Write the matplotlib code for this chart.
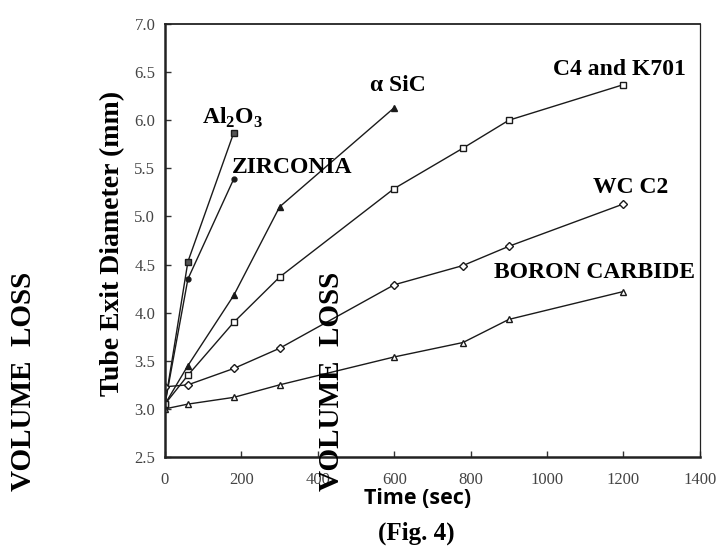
import matplotlib
matplotlib.use('Agg')
import matplotlib.pyplot as plt

plt.rcParams['mathtext.fontset'] = 'custom'
plt.rcParams['mathtext.rm'] = 'Liberation Serif:bold'
plt.rcParams['mathtext.bf'] = 'Liberation Serif:bold'

# Tube exit diameter (mm) against blasting time (sec) for each nozzle material
t_al2o3 = [0, 60, 180]
d_al2o3 = [3.05, 4.53, 5.87]

t_zirc = [0, 60, 180]
d_zirc = [3.05, 4.35, 5.39]

t_sic = [0, 60, 180, 300, 600]
d_sic = [3.05, 3.45, 4.18, 5.10, 6.13]

t_long = [0, 60, 180, 300, 600, 780, 900, 1200]
d_c4 = [3.05, 3.35, 3.90, 4.37, 5.29, 5.71, 6.00, 6.37]
d_wc = [3.23, 3.25, 3.42, 3.63, 4.29, 4.49, 4.69, 5.13]
d_boron = [3.00, 3.05, 3.12, 3.25, 3.54, 3.69, 3.93, 4.22]

labels = ['Al$_2$O$_3$', 'ZIRCONIA', 'α SiC', 'C4 and K701', 'WC C2', 'BORON CARBIDE']
label_xy = [(98, 6.02), (175, 5.51), (537, 6.36), (1015, 6.53), (1120, 5.30), (862, 4.42)]

fig = plt.figure(figsize=(7.17, 5.47), dpi=100)
ax = fig.add_axes([0.2301, 0.1645, 0.746, 0.7916])

lc = '#1a1a1a'
kw = dict(color=lc, lw=1.0, markersize=4.5, markeredgewidth=1.0)
ax.plot(t_al2o3, d_al2o3, marker='s', markerfacecolor='#555555', **kw)
ax.plot(t_zirc, d_zirc, marker='o', markersize=3.5, color=lc, lw=1.0, markerfacecolor=lc)
ax.plot(t_sic, d_sic, marker='^', markerfacecolor=lc, **kw)
ax.plot(t_long, d_c4, marker='s', markerfacecolor='white', **kw)
ax.plot(t_long, d_wc, marker='D', markersize=4.5, markerfacecolor='white', color=lc, lw=1.0, markeredgewidth=1.0)
ax.plot(t_long, d_boron, marker='^', markerfacecolor='white', **kw)

for txt, (x, y) in zip(labels, label_xy):
    ax.text(x, y, txt, family='Liberation Serif', fontweight='bold', fontsize=17,
            ha='left', va='center')

ax.set_xlim(0, 1400)
ax.set_ylim(2.5, 7.0)
ax.set_xticks(range(0, 1401, 200))
ax.set_yticks([2.5, 3.0, 3.5, 4.0, 4.5, 5.0, 5.5, 6.0, 6.5, 7.0])
ax.set_yticklabels(['%.1f' % v for v in ax.get_yticks()])
ax.tick_params(direction='in', length=4, width=1, colors='#333333', labelsize=12, pad=7)
ax.tick_params(axis='x', pad=11)
for lab in ax.get_xticklabels() + ax.get_yticklabels():
    lab.set_family('Liberation Serif')
    lab.set_color('#444444')

ax.spines['left'].set_linewidth(1.8)
ax.spines['bottom'].set_linewidth(1.8)
ax.spines['top'].set_linewidth(1.3)
ax.spines['right'].set_linewidth(0.9)
for s in ax.spines.values():
    s.set_color('#222222')

fig.text(0.157, 0.555, 'Tube Exit Diameter (mm)', rotation=90, family='Liberation Serif',
         fontweight='bold', fontsize=20, ha='center', va='center')
fig.text(0.033, 0.303, 'VOLUME  LOSS', rotation=90, family='Liberation Serif',
         fontweight='bold', fontsize=21, ha='center', va='center')
fig.text(0.463, 0.302, 'VOLUME  LOSS', rotation=90, family='Liberation Serif',
         fontweight='bold', fontsize=21, ha='center', va='center')
fig.text(0.582, 0.089, 'Time (sec)', family='Open Sans', fontweight='bold',
         fontsize=15.5, ha='center', va='center')
fig.text(0.580, 0.025, '(Fig. 4)', family='Liberation Serif', fontweight='bold',
         fontsize=18, ha='center', va='center')

fig.savefig('out.png', dpi=100)
